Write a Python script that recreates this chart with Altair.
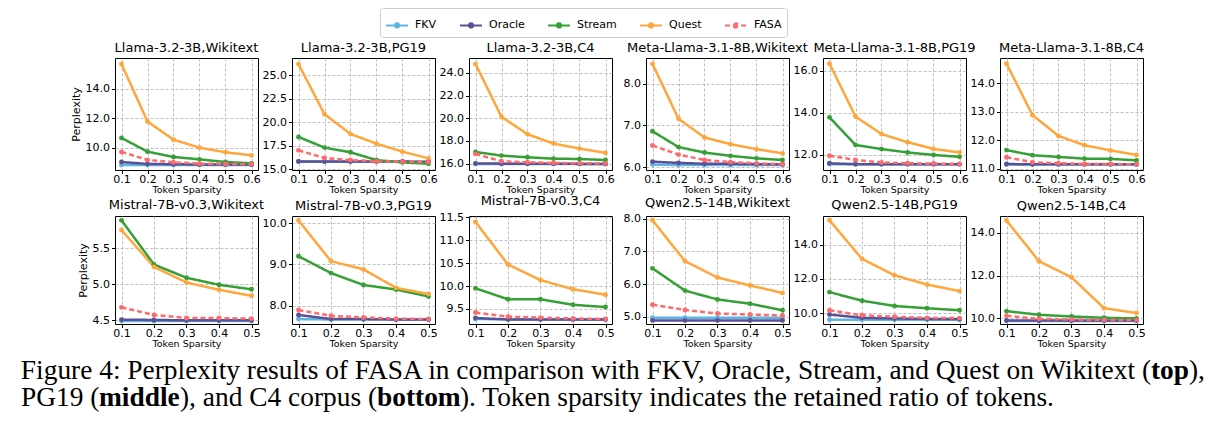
import altair as alt
import pandas as pd

series = ["FKV", "Oracle", "Stream", "Quest", "FASA"]
colors = ["#5DB6E2", "#5A5096", "#35A035", "#FFA63C", "#FF6B6B"]
dashes = [[1, 0], [1, 0], [1, 0], [1, 0], [5, 3]]

x_top = [0.1, 0.2, 0.3, 0.4, 0.5, 0.6]
x_bot = [0.1, 0.2, 0.3, 0.4, 0.5]

titles = [
    "Llama-3.2-3B,Wikitext", "Llama-3.2-3B,PG19", "Llama-3.2-3B,C4",
    "Meta-Llama-3.1-8B,Wikitext", "Meta-Llama-3.1-8B,PG19", "Meta-Llama-3.1-8B,C4",
    "Mistral-7B-v0.3,Wikitext", "Mistral-7B-v0.3,PG19", "Mistral-7B-v0.3,C4",
    "Qwen2.5-14B,Wikitext", "Qwen2.5-14B,PG19", "Qwen2.5-14B,C4",
]

# Llama-3.2-3B, Wikitext
p1_fkv = [8.85, 8.85, 8.85, 8.85, 8.85, 8.85]
p1_oracle = [9.05, 8.92, 8.90, 8.88, 8.88, 8.88]
p1_stream = [10.68, 9.75, 9.39, 9.23, 9.05, 8.96]
p1_quest = [15.67, 11.79, 10.56, 10.02, 9.71, 9.50]
p1_fasa = [9.73, 9.19, 9.03, 8.94, 8.92, 8.90]
# Llama-3.2-3B, PG19
p2_fkv = [15.80, 15.78, 15.78, 15.78, 15.77, 15.76]
p2_oracle = [15.82, 15.80, 15.82, 15.82, 15.80, 15.78]
p2_stream = [18.43, 17.29, 16.79, 15.96, 15.71, 15.57]
p2_quest = [26.21, 20.86, 18.75, 17.71, 16.86, 16.14]
p2_fasa = [17.00, 16.18, 15.96, 15.82, 15.79, 15.75]
# Llama-3.2-3B, C4
p3_fkv = [15.98, 15.98, 15.98, 15.98, 15.98, 15.98]
p3_oracle = [16.02, 16.00, 15.99, 15.99, 15.98, 15.98]
p3_stream = [17.03, 16.71, 16.56, 16.44, 16.41, 16.32]
p3_quest = [24.79, 20.13, 18.60, 17.77, 17.33, 16.95]
p3_fasa = [16.86, 16.21, 16.12, 16.06, 16.03, 16.02]
# Meta-Llama-3.1-8B, Wikitext
p4_fkv = [6.06, 6.05, 6.05, 6.05, 6.05, 6.05]
p4_oracle = [6.13, 6.10, 6.08, 6.08, 6.07, 6.07]
p4_stream = [6.86, 6.48, 6.35, 6.27, 6.21, 6.17]
p4_quest = [8.48, 7.16, 6.71, 6.55, 6.43, 6.33]
p4_fasa = [6.52, 6.30, 6.17, 6.12, 6.09, 6.07]
# Meta-Llama-3.1-8B, PG19
p5_fkv = [11.54, 11.53, 11.53, 11.53, 11.53, 11.53]
p5_oracle = [11.58, 11.54, 11.54, 11.54, 11.54, 11.54]
p5_stream = [13.78, 12.46, 12.26, 12.10, 11.98, 11.89]
p5_quest = [16.35, 13.82, 12.98, 12.59, 12.27, 12.10]
p5_fasa = [11.94, 11.74, 11.62, 11.58, 11.57, 11.55]
# Meta-Llama-3.1-8B, C4
p6_fkv = [11.14, 11.14, 11.14, 11.14, 11.14, 11.14]
p6_oracle = [11.16, 11.15, 11.15, 11.15, 11.15, 11.15]
p6_stream = [11.65, 11.47, 11.41, 11.35, 11.34, 11.29]
p6_quest = [14.69, 12.88, 12.15, 11.82, 11.64, 11.48]
p6_fasa = [11.40, 11.22, 11.19, 11.16, 11.16, 11.15]
# Mistral-7B-v0.3, Wikitext
p7_fkv = [4.49, 4.49, 4.49, 4.49, 4.49]
p7_oracle = [4.51, 4.505, 4.50, 4.50, 4.50]
p7_stream = [5.887, 5.274, 5.09, 4.993, 4.93]
p7_quest = [5.753, 5.24, 5.025, 4.924, 4.84]
p7_fasa = [4.68, 4.574, 4.532, 4.532, 4.523]
# Mistral-7B-v0.3, PG19
p8_fkv = [7.67, 7.66, 7.66, 7.66, 7.66]
p8_oracle = [7.77, 7.67, 7.67, 7.66, 7.66]
p8_stream = [9.20, 8.79, 8.50, 8.39, 8.22]
p8_quest = [10.07, 9.08, 8.88, 8.43, 8.28]
p8_fasa = [7.89, 7.75, 7.71, 7.68, 7.67]
# Mistral-7B-v0.3, C4
p9_fkv = [9.28, 9.27, 9.27, 9.27, 9.27]
p9_oracle = [9.30, 9.27, 9.27, 9.27, 9.27]
p9_stream = [9.95, 9.71, 9.71, 9.59, 9.54]
p9_quest = [11.40, 10.47, 10.13, 9.93, 9.81]
p9_fasa = [9.42, 9.33, 9.31, 9.29, 9.28]
# Qwen2.5-14B, Wikitext
p10_fkv = [4.97, 4.97, 4.97, 4.97, 4.97]
p10_oracle = [4.89, 4.89, 4.89, 4.89, 4.89]
p10_stream = [6.48, 5.80, 5.53, 5.40, 5.20]
p10_quest = [7.95, 6.70, 6.20, 5.96, 5.73]
p10_fasa = [5.37, 5.21, 5.10, 5.07, 5.04]
# Qwen2.5-14B, PG19
p11_fkv = [9.62, 9.62, 9.62, 9.62, 9.62]
p11_oracle = [9.92, 9.73, 9.69, 9.67, 9.66]
p11_stream = [11.23, 10.73, 10.42, 10.29, 10.17]
p11_quest = [15.42, 13.17, 12.21, 11.67, 11.29]
p11_fasa = [10.17, 9.88, 9.79, 9.73, 9.71]
# Qwen2.5-14B, C4
p12_fkv = [9.88, 9.88, 9.88, 9.88, 9.88]
p12_oracle = [9.91, 9.90, 9.90, 9.90, 9.90]
p12_stream = [10.34, 10.17, 10.09, 10.03, 10.00]
p12_quest = [14.57, 12.67, 11.92, 10.48, 10.25]
p12_fasa = [10.12, 9.98, 9.95, 9.93, 9.92]

panel_values = [
    [p1_fkv, p1_oracle, p1_stream, p1_quest, p1_fasa],
    [p2_fkv, p2_oracle, p2_stream, p2_quest, p2_fasa],
    [p3_fkv, p3_oracle, p3_stream, p3_quest, p3_fasa],
    [p4_fkv, p4_oracle, p4_stream, p4_quest, p4_fasa],
    [p5_fkv, p5_oracle, p5_stream, p5_quest, p5_fasa],
    [p6_fkv, p6_oracle, p6_stream, p6_quest, p6_fasa],
    [p7_fkv, p7_oracle, p7_stream, p7_quest, p7_fasa],
    [p8_fkv, p8_oracle, p8_stream, p8_quest, p8_fasa],
    [p9_fkv, p9_oracle, p9_stream, p9_quest, p9_fasa],
    [p10_fkv, p10_oracle, p10_stream, p10_quest, p10_fasa],
    [p11_fkv, p11_oracle, p11_stream, p11_quest, p11_fasa],
    [p12_fkv, p12_oracle, p12_stream, p12_quest, p12_fasa],
]

y_domains = [
    [8.51, 16.08], [14.9, 26.86], [15.44, 25.32], [5.93, 8.62], [11.26, 16.62], [10.95, 14.89],
    [4.449, 5.947], [7.55, 10.18], [9.17, 11.53], [4.78, 8.08], [9.37, 15.67], [9.74, 14.78],
]
y_ticks = [
    [10, 12, 14], [15, 17.5, 20, 22.5, 25], [16, 18, 20, 22, 24], [6, 7, 8], [12, 14, 16], [11, 12, 13, 14],
    [4.5, 5.0, 5.5], [8, 9, 10], [9.5, 10, 10.5, 11, 11.5], [5, 6, 7, 8], [10, 12, 14], [10, 12, 14],
]

caption_line1 = ["Figure 4: Perplexity results of FASA in comparison with FKV, Oracle, Stream, and Quest on Wikitext (", "top", "),"]
caption_line2 = ["PG19 (", "middle", "), and C4 corpus (", "bottom", "). Token sparsity indicates the retained ratio of tokens."]
caption_bold = [[False, True, False], [False, True, False, True, False]]
caption_align = [["right", "left", "left"], ["left", "left", "left", "left", "left"]]
caption_x = [[1036, 1036, 1074], [-94, -16, 65, 262, 345]]
caption_y = [163, 190]

W = 143
H_rows = [112, 108]
FONT = "DejaVu Sans"

legend_path = "M-1,0L1,0M-0.2,0A0.2,0.2,0,1,0,0.2,0A0.2,0.2,0,1,0,-0.2,0"
legend = alt.Legend(
    orient="none", legendX=265, legendY=-50, direction="horizontal", title=None,
    labelFont=FONT, labelFontSize=11, labelColor="black", symbolType=legend_path,
    symbolSize=480, symbolStrokeWidth=2, columnPadding=19, labelOffset=6,
    padding=5, strokeColor="#cccccc", cornerRadius=3, fillColor="white",
)


def panel(i):
    xs = x_top if i < 6 else x_bot
    rows = []
    for s, vals in zip(series, panel_values[i]):
        for x, v in zip(xs, vals):
            rows.append({"x": x, "y": v, "series": s})
    df = pd.DataFrame(rows)
    xdom = [0.075, 0.625] if i < 6 else [0.08, 0.52]
    base = alt.Chart(df).encode(
        x=alt.X("x:Q", scale=alt.Scale(domain=xdom, nice=False, zero=False),
                axis=alt.Axis(values=xs, format=".1f", title="Token Sparsity",
                              titleFontSize=9.5, titlePadding=0, labelPadding=0)),
        y=alt.Y("y:Q", scale=alt.Scale(domain=y_domains[i], nice=False, zero=False),
                axis=alt.Axis(values=y_ticks[i], format=".1f",
                              title="Perplexity" if i % 6 == 0 else "",
                              titleFontSize=11, titlePadding=4, labelPadding=2)),
        color=alt.Color("series:N", scale=alt.Scale(domain=series, range=colors), legend=legend),
    )
    lines = base.mark_line(strokeWidth=2.5).encode(
        strokeDash=alt.StrokeDash("series:N", scale=alt.Scale(domain=series, range=dashes), legend=legend)
    )
    pts = base.mark_point(filled=True, size=24, opacity=1, shape="circle")
    layers = [lines, pts]
    if i == 6:
        for li, (segs, bolds, aligns, xs_) in enumerate(
            zip([caption_line1, caption_line2], caption_bold, caption_align, caption_x)
        ):
            for seg, b, al, px in zip(segs, bolds, aligns, xs_):
                layers.append(
                    alt.Chart(pd.DataFrame({"t": [seg]})).mark_text(
                        align=al, baseline="alphabetic", font="Liberation Serif",
                        fontSize=27.4, fontWeight="bold" if b else "normal", color="black",
                    ).encode(text="t:N", x=alt.value(px), y=alt.value(caption_y[li]))
                )
    return alt.layer(*layers).properties(
        width=W, height=H_rows[0] if i < 6 else H_rows[1],
        title=alt.TitleParams(titles[i], font=FONT, fontSize=13, fontWeight="normal", offset=3, color="black"),
    )


chart = alt.concat(
    *[panel(i) for i in range(12)], columns=6, spacing={"row": 46, "column": 34}, bounds="flush"
).properties(
    padding={"left": 18, "top": 7, "right": 5, "bottom": 5}, background="white"
).configure_view(
    stroke="black", strokeWidth=1
).configure_axis(
    labelFont=FONT, titleFont=FONT, labelFontSize=11, labelColor="black", titleColor="black",
    titleFontWeight="normal", domain=False, tickColor="black", tickSize=3.5,
    gridColor="#b0b0b0", gridDash=[3, 2], gridWidth=0.8,
)

chart.save("out.html", embed_options={"renderer": "svg", "actions": False})
